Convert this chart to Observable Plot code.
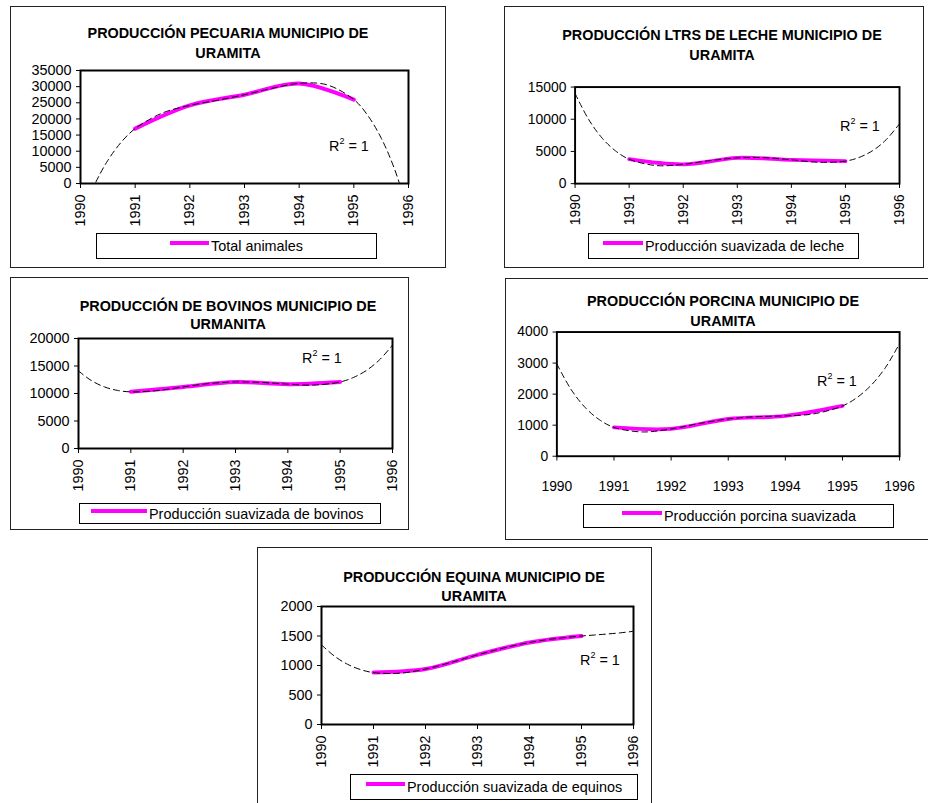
<!DOCTYPE html>
<html>
<head>
<meta charset="utf-8">
<script src="https://cdn.jsdelivr.net/npm/d3@7"></script>
<script src="https://cdn.jsdelivr.net/npm/@observablehq/plot@0.6"></script>
<style>
  html, body { margin: 0; padding: 0; background: #fff; }
  body { width: 928px; height: 803px; overflow: hidden; position: relative; font-family: "Liberation Sans", Arial, sans-serif; color: #000; }
  .panel { position: absolute; border: 1px solid #222; box-sizing: border-box; }
  .title { position: absolute; font-weight: bold; font-size: 14.4px; text-align: center; white-space: nowrap; transform: translateX(-50%); }
  .legend { position: absolute; border: 1px solid #000; box-sizing: border-box; background: #fff; }
  .swatch { position: absolute; height: 4px; background: #FF00FF; }
  .ltext { position: absolute; font-size: 14.4px; line-height: 18px; white-space: nowrap; }
  .r2 { position: absolute; font-size: 14.4px; line-height: 18px; white-space: nowrap; }
  .r2 sup { font-size: 9px; vertical-align: 7px; line-height: 0; }
  .plotwrap { position: absolute; }
  .plotwrap svg { overflow: visible; }
</style>
</head>
<body>
<script>
// ---------- data ----------
const years = [1991, 1992, 1993, 1994, 1995];
const xTicks = [1990, 1991, 1992, 1993, 1994, 1995, 1996];

const totalAnimales = [17000, 24200, 27500, 31000, 26000];
const lecheSuavizada = [3800, 3000, 4000, 3700, 3500];
const bovinosSuavizada = [10300, 11200, 12100, 11700, 12100];
const porcinaSuavizada = [930, 880, 1200, 1300, 1620];
const equinosSuavizada = [880, 940, 1180, 1390, 1500];

// dashed polynomial trend lines (R² = 1), read at these years
const trendYears = [1990, 1990.25, 1990.5, 1990.75, 1991, 1991.5, 1992, 1992.5, 1993, 1993.5, 1994, 1994.5, 1995, 1995.25, 1995.5, 1995.75, 1996];
const trendTotal   = [-11000, -645, 7156, 12892, 17000, 21844, 24200, 25781, 27500, 29469, 31000, 30606, 26000, 21185, 14094, 4219, -9000];
const trendLeche   = [14000, 9984, 7074, 5072, 3800, 2805, 3000, 3574, 4000, 4030, 3700, 3324, 3500, 4057, 5105, 6796, 9300];
const trendBovinos = [14100, 12325, 11186, 10551, 10300, 10536, 11200, 11811, 12100, 12011, 11700, 11536, 12100, 12895, 14186, 16106, 18800];
const trendPorcina = [2970, 2146, 1560, 1168, 930, 782, 880, 1055, 1200, 1274, 1300, 1365, 1620, 1884, 2282, 2850, 3630];
const trendEquinos = [1350, 1158, 1021, 931, 880, 869, 940, 1054, 1180, 1296, 1390, 1456, 1500, 1517, 1534, 1554, 1580];

const yTicksTotal   = [0, 5000, 10000, 15000, 20000, 25000, 30000, 35000];
const yTicksLeche   = [0, 5000, 10000, 15000];
const yTicksBovinos = [0, 5000, 10000, 15000, 20000];
const yTicksPorcina = [0, 1000, 2000, 3000, 4000];
const yTicksEquinos = [0, 500, 1000, 1500, 2000];

const titles = [
  ["PRODUCCIÓN PECUARIA MUNICIPIO DE", "URAMITA"],
  ["PRODUCCIÓN LTRS DE LECHE MUNICIPIO DE", "URAMITA"],
  ["PRODUCCIÓN DE BOVINOS MUNICIPIO DE", "URMANITA"],
  ["PRODUCCIÓN PORCINA MUNICIPIO DE", "URAMITA"],
  ["PRODUCCIÓN EQUINA MUNICIPIO DE", "URAMITA"]
];
const legendLabels = [
  "Total animales",
  "Producción suavizada de leche",
  "Producción suavizada de bovinos",
  "Producción porcina suavizada",
  "Producción suavizada de equinos"
];
const r2Label = "R<sup>2</sup> = 1";

const seriesValues = [totalAnimales, lecheSuavizada, bovinosSuavizada, porcinaSuavizada, equinosSuavizada];
const trendValues = [trendTotal, trendLeche, trendBovinos, trendPorcina, trendEquinos];
const yTickSets = [yTicksTotal, yTicksLeche, yTicksBovinos, yTicksPorcina, yTicksEquinos];

// ---------- layout (pixel geometry of each panel) ----------
const layout = [
  {frame: [10, 6, 446, 268],  plot: [80, 70, 408, 183],  title: [228, 33, 20],  legend: [96, 233, 377, 259],  swatch: [170, 39], r2: [329, 146], rotate: true},
  {frame: [504, 6, 924, 268], plot: [577, 87, 913, 187], title: [722, 35, 20],  legend: [588, 233, 859, 259], swatch: [603, 40], r2: [840, 126], rotate: true},
  {frame: [10, 277, 409, 530], plot: [78, 338, 392, 448], title: [228, 306, 18.5], legend: [79, 503, 381, 524], swatch: [91, 56], r2: [302, 358], rotate: true},
  {frame: [505, 278, 940, 540], plot: [559, 332, 915, 461], title: [723, 301, 20], legend: [583, 504, 894, 528], swatch: [622, 40], r2: [817, 381], rotate: false},
  {frame: [257, 547, 652, 815], plot: [321, 606, 633, 724], title: [474, 577, 19], legend: [350, 774, 638, 800], swatch: [366, 39], r2: [580, 660], rotate: true}
];

function el(tag, cls, styles, html) {
  const e = document.createElement(tag);
  if (cls) e.className = cls;
  Object.assign(e.style, styles || {});
  if (html != null) e.innerHTML = html;
  document.body.appendChild(e);
  return e;
}

const ML = 70, MR = 30, MT = 12, MB = 55;

layout.forEach((L, i) => {
  const [fx0, fy0, fx1, fy1] = L.frame;
  el("div", "panel", {left: fx0 + "px", top: fy0 + "px", width: (fx1 - fx0) + "px", height: (fy1 - fy0) + "px"});

  const [px0, py0, px1, py1] = L.plot;
  const data = years.map((y, k) => ({year: y, value: seriesValues[i][k]}));
  const trend = trendYears.map((y, k) => ({year: y, value: trendValues[i][k]}));
  const yt = yTickSets[i];

  const chart = Plot.plot({
    width: (px1 - px0) + ML + MR,
    height: (py1 - py0) + MT + MB,
    marginLeft: ML, marginRight: MR, marginTop: MT, marginBottom: MB,
    style: {fontFamily: '"Liberation Sans", Arial, sans-serif', fontSize: "14.4px", color: "#000", background: "transparent", overflow: "visible"},
    x: {domain: [1990, 1996], ticks: xTicks, tickFormat: "d", tickSize: 5, tickPadding: L.rotate ? 6 : 21, tickRotate: L.rotate ? -90 : 0, label: null},
    y: {domain: [yt[0], yt[yt.length - 1]], ticks: yt, tickFormat: "d", tickSize: 4, tickPadding: 5, label: null},
    marks: [
      Plot.line(data, {x: "year", y: "value", stroke: "#FF00FF", strokeWidth: 4, curve: "catmull-rom"}),
      Plot.line(trend, {x: "year", y: "value", stroke: "#000", strokeWidth: 1, strokeDasharray: "6,4", curve: "catmull-rom", clip: true}),
      Plot.frame({stroke: "#000", strokeWidth: 2})
    ]
  });
  const wrap = el("div", "plotwrap", {left: (px0 - ML) + "px", top: (py0 - MT) + "px"});
  wrap.appendChild(chart);

  const [tx, ty, lh] = L.title;
  el("div", "title", {left: tx + "px", top: (ty - lh / 2) + "px", lineHeight: lh + "px"}, titles[i].join("<br>"));

  const [lx0, ly0, lx1, ly1] = L.legend;
  el("div", "legend", {left: lx0 + "px", top: ly0 + "px", width: (lx1 - lx0) + "px", height: (ly1 - ly0) + "px"});
  const cy = (ly0 + ly1) / 2;
  const [sx, sw] = L.swatch;
  el("div", "swatch", {left: sx + "px", top: (cy - 5) + "px", width: sw + "px"});
  el("div", "ltext", {left: (sx + sw + 2) + "px", top: (cy - 9) + "px"}, legendLabels[i]);

  const [rx, ry] = L.r2;
  el("div", "r2", {left: rx + "px", top: (ry - 9) + "px"}, r2Label);
});
</script>
</body>
</html>
